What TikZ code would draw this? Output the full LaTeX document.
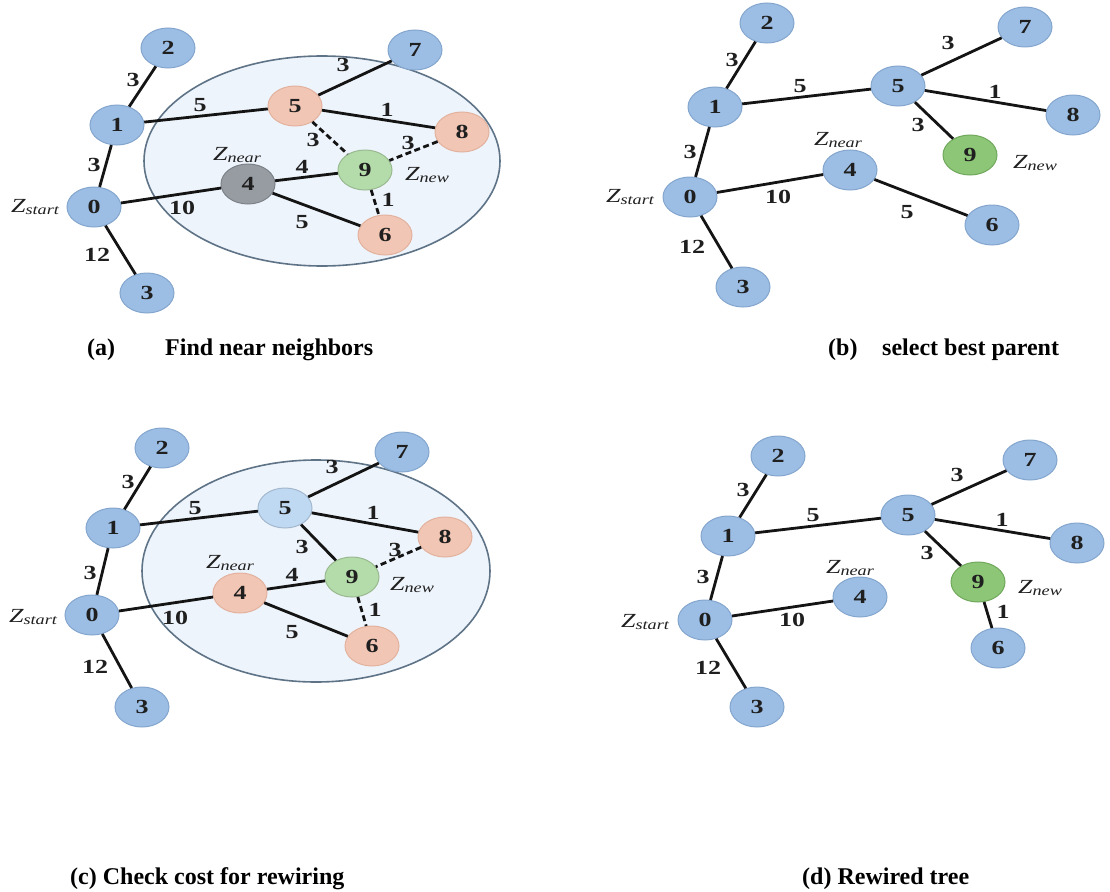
\documentclass[tikz,border=0pt]{standalone}
\usepackage{fontspec}
\setmainfont{Liberation Serif}
\usetikzlibrary{shapes.geometric}

\definecolor{nodeblue}{RGB}{156,190,228}
\definecolor{nodeblueline}{RGB}{132,166,206}
\definecolor{nodepale}{RGB}{192,217,242}
\definecolor{nodesalmon}{RGB}{242,198,180}
\definecolor{nodesalmonline}{RGB}{226,178,158}
\definecolor{nodegreenlt}{RGB}{180,219,170}
\definecolor{nodegreen}{RGB}{140,198,118}
\definecolor{nodegreenline}{RGB}{112,168,92}
\definecolor{nodegray}{RGB}{150,156,162}
\definecolor{nodegrayline}{RGB}{125,130,136}
\definecolor{regionfill}{RGB}{238,244,251}
\definecolor{regionline}{RGB}{95,115,135}

% horizontally widened text, as in the drawing
\newcommand{\wx}[1]{\scalebox{1.3}[1]{#1}}
% Z with a subscript-like tag
\newcommand{\zlab}[1]{\wx{\fontsize{20}{20}\selectfont\itshape Z\raisebox{-2pt}{\fontsize{14}{14}\selectfont #1}}}

\tikzset{
  vtx/.style={ellipse, minimum width=54pt, minimum height=40pt, inner sep=0pt,
    line width=1pt, draw=nodeblueline, fill=nodeblue,
    font=\fontsize{20}{20}\selectfont\bfseries, text=black!88},
  vpale/.style={vtx, fill=nodepale, draw=nodepale!85!black},
  vsal/.style={vtx, fill=nodesalmon, draw=nodesalmonline},
  vgrl/.style={vtx, fill=nodegreenlt, draw=nodegreenlt!85!black},
  vgrn/.style={vtx, fill=nodegreen, draw=nodegreenline},
  vgry/.style={vtx, fill=nodegray, draw=nodegrayline},
  link/.style={line width=2.8pt, black!92},
  dlink/.style={link, dash pattern=on 6pt off 3.5pt},
  wt/.style={font=\fontsize{20}{20}\selectfont\bfseries, text=black!88, inner sep=0pt},
  zt/.style={inner sep=0pt, text=black!88},
  captxt/.style={font=\fontsize{24}{24}\selectfont\bfseries, anchor=base west, inner sep=0pt},
  region/.style={draw=regionline, line width=1.6pt, fill=regionfill}
}

\begin{document}
\begin{tikzpicture}[x=1pt, y=-1pt]
\useasboundingbox (0,0) rectangle (1110,891);

% ---------------- (a) Find near neighbors ----------------
\draw[region] (322,161) ellipse [x radius=178pt, y radius=105pt];
\node[vtx]  (a2) at (168,48)  {\wx{2}};
\node[vtx]  (a1) at (117,125) {\wx{1}};
\node[vtx]  (a0) at (94,207)  {\wx{0}};
\node[vtx]  (a3) at (147,293) {\wx{3}};
\node[vtx]  (a7) at (415,50)  {\wx{7}};
\node[vsal] (a5) at (295,106) {\wx{5}};
\node[vsal] (a8) at (462,132) {\wx{8}};
\node[vgrl] (a9) at (365,170) {\wx{9}};
\node[vgry] (a4) at (248,184) {\wx{4}};
\node[vsal] (a6) at (385,235) {\wx{6}};
\draw[link] (a2) -- (a1);
\draw[link] (a1) -- (a0);
\draw[link] (a0) -- (a3);
\draw[link] (a1) -- (a5);
\draw[link] (a5) -- (a7);
\draw[link] (a5) -- (a8);
\draw[dlink] (a5) -- (a9);
\draw[dlink] (a8) -- (a9);
\draw[link] (a4) -- (a9);
\draw[link] (a0) -- (a4);
\draw[link] (a4) -- (a6);
\draw[dlink] (a9) -- (a6);
\node[wt] (aw21) at (133,80)  {\wx{3}};
\node[wt] (aw10) at (94,165)  {\wx{3}};
\node[wt] (aw03) at (97,255)  {\wx{12}};
\node[wt] (aw15) at (200,105) {\wx{5}};
\node[wt] (aw57) at (343,65)  {\wx{3}};
\node[wt] (aw58) at (387,110) {\wx{1}};
\node[wt] (aw59) at (313,140) {\wx{3}};
\node[wt] (aw89) at (408,143) {\wx{3}};
\node[wt] (aw49) at (302,167) {\wx{4}};
\node[wt] (aw04) at (182,208) {\wx{10}};
\node[wt] (aw46) at (302,222) {\wx{5}};
\node[wt] (aw96) at (388,200) {\wx{1}};
\node[zt] (azs) at (35,207)  {\zlab{start}};
\node[zt] (azr) at (237,155) {\zlab{near}};
\node[zt] (azn) at (427,175) {\zlab{new}};
\node[captxt] (acapl) at (87,355)  {(a)};
\node[captxt] (acapt) at (165,355) {Find near neighbors};

% ---------------- (b) select best parent ----------------
\node[vtx]  (b2) at (767,23)  {\wx{2}};
\node[vtx]  (b1) at (715,107) {\wx{1}};
\node[vtx]  (b0) at (690,197) {\wx{0}};
\node[vtx]  (b3) at (743,287) {\wx{3}};
\node[vtx]  (b4) at (850,170) {\wx{4}};
\node[vtx]  (b5) at (898,86)  {\wx{5}};
\node[vtx]  (b7) at (1025,27) {\wx{7}};
\node[vtx]  (b8) at (1073,115) {\wx{8}};
\node[vgrn] (b9) at (970,155) {\wx{9}};
\node[vtx]  (b6) at (992,225) {\wx{6}};
\draw[link] (b2) -- (b1);
\draw[link] (b1) -- (b0);
\draw[link] (b0) -- (b3);
\draw[link] (b1) -- (b5);
\draw[link] (b5) -- (b7);
\draw[link] (b5) -- (b8);
\draw[link] (b5) -- (b9);
\draw[link] (b0) -- (b4);
\draw[link] (b4) -- (b6);
\node[wt] (bw21) at (732,60)  {\wx{3}};
\node[wt] (bw10) at (690,152) {\wx{3}};
\node[wt] (bw03) at (692,247) {\wx{12}};
\node[wt] (bw15) at (800,86)  {\wx{5}};
\node[wt] (bw57) at (948,43)  {\wx{3}};
\node[wt] (bw58) at (995,92)  {\wx{1}};
\node[wt] (bw59) at (918,125) {\wx{3}};
\node[wt] (bw04) at (778,197) {\wx{10}};
\node[wt] (bw46) at (907,212) {\wx{5}};
\node[zt] (bzs) at (630,197)  {\zlab{start}};
\node[zt] (bzr) at (838,140)  {\zlab{near}};
\node[zt] (bzn) at (1035,163) {\zlab{new}};
\node[captxt] (bcapl) at (828,355) {(b)};
\node[captxt] (bcapt) at (882,355) {select best parent};

% ---------------- (c) Check cost for rewiring ----------------
\draw[region] (316,571) ellipse [x radius=174pt, y radius=111pt];
\node[vtx]   (c2) at (162,448) {\wx{2}};
\node[vtx]   (c7) at (402,452) {\wx{7}};
\node[vpale] (c5) at (285,508) {\wx{5}};
\node[vtx]   (c1) at (113,528) {\wx{1}};
\node[vsal]  (c8) at (445,537) {\wx{8}};
\node[vgrl]  (c9) at (352,577) {\wx{9}};
\node[vsal]  (c4) at (240,593) {\wx{4}};
\node[vtx]   (c0) at (92,615)  {\wx{0}};
\node[vsal]  (c6) at (372,646) {\wx{6}};
\node[vtx]   (c3) at (142,707) {\wx{3}};
\draw[link] (c2) -- (c1);
\draw[link] (c1) -- (c0);
\draw[link] (c0) -- (c3);
\draw[link] (c1) -- (c5);
\draw[link] (c5) -- (c7);
\draw[link] (c5) -- (c8);
\draw[link] (c5) -- (c9);
\draw[dlink] (c8) -- (c9);
\draw[link] (c4) -- (c9);
\draw[link] (c0) -- (c4);
\draw[link] (c4) -- (c6);
\draw[dlink] (c9) -- (c6);
\node[wt] (cw21) at (128,482) {\wx{3}};
\node[wt] (cw10) at (90,573)  {\wx{3}};
\node[wt] (cw03) at (95,667)  {\wx{12}};
\node[wt] (cw15) at (195,508) {\wx{5}};
\node[wt] (cw57) at (332,467) {\wx{3}};
\node[wt] (cw58) at (373,513) {\wx{1}};
\node[wt] (cw59) at (302,547) {\wx{3}};
\node[wt] (cw89) at (395,550) {\wx{3}};
\node[wt] (cw49) at (292,575) {\wx{4}};
\node[wt] (cw04) at (175,618) {\wx{10}};
\node[wt] (cw46) at (292,632) {\wx{5}};
\node[wt] (cw96) at (375,610) {\wx{1}};
\node[zt] (czs) at (33,617)  {\zlab{start}};
\node[zt] (czr) at (230,563) {\zlab{near}};
\node[zt] (czn) at (412,585) {\zlab{new}};
\node[captxt] (ccap) at (70,884) {(c) Check cost for rewiring};

% ---------------- (d) Rewired tree ----------------
\node[vtx]  (d2) at (778,456)  {\wx{2}};
\node[vtx]  (d7) at (1030,460) {\wx{7}};
\node[vtx]  (d5) at (908,515)  {\wx{5}};
\node[vtx]  (d1) at (728,536)  {\wx{1}};
\node[vtx]  (d8) at (1077,543) {\wx{8}};
\node[vgrn] (d9) at (978,582)  {\wx{9}};
\node[vtx]  (d4) at (860,597)  {\wx{4}};
\node[vtx]  (d0) at (705,620)  {\wx{0}};
\node[vtx]  (d6) at (998,648)  {\wx{6}};
\node[vtx]  (d3) at (757,707)  {\wx{3}};
\draw[link] (d2) -- (d1);
\draw[link] (d1) -- (d0);
\draw[link] (d0) -- (d3);
\draw[link] (d1) -- (d5);
\draw[link] (d5) -- (d7);
\draw[link] (d5) -- (d8);
\draw[link] (d5) -- (d9);
\draw[link] (d0) -- (d4);
\draw[link] (d9) -- (d6);
\node[wt] (dw21) at (743,490)  {\wx{3}};
\node[wt] (dw10) at (703,577)  {\wx{3}};
\node[wt] (dw03) at (708,668)  {\wx{12}};
\node[wt] (dw15) at (813,515)  {\wx{5}};
\node[wt] (dw57) at (957,475)  {\wx{3}};
\node[wt] (dw58) at (1002,520) {\wx{1}};
\node[wt] (dw59) at (927,553)  {\wx{3}};
\node[wt] (dw04) at (792,620)  {\wx{10}};
\node[wt] (dw96) at (1003,612) {\wx{1}};
\node[zt] (dzs) at (645,622)  {\zlab{start}};
\node[zt] (dzr) at (850,568)  {\zlab{near}};
\node[zt] (dzn) at (1040,588) {\zlab{new}};
\node[captxt] (dcap) at (802,884) {(d) Rewired tree};
\end{tikzpicture}
\end{document}
